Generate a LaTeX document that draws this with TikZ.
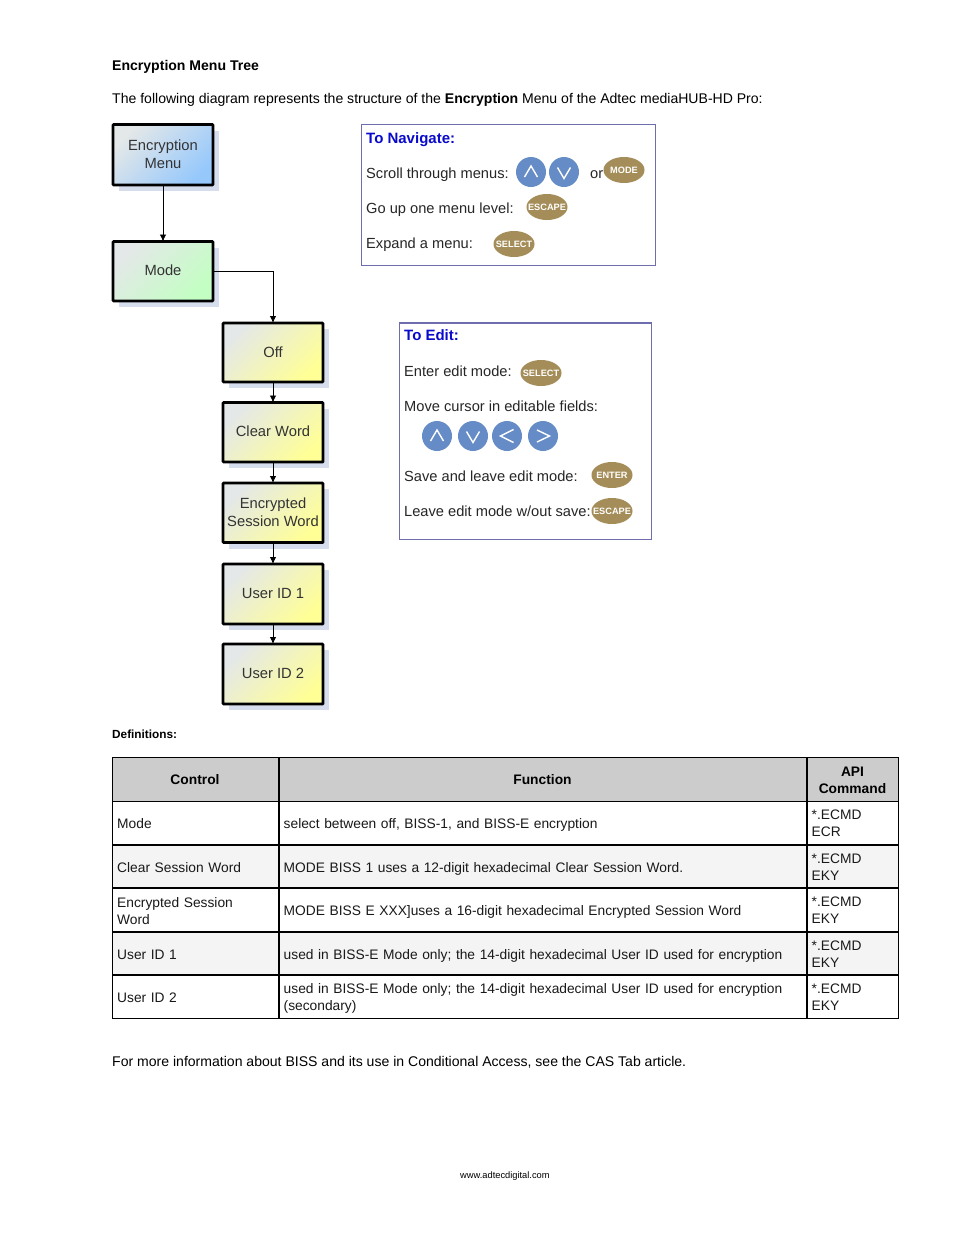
\documentclass[tikz,border=0pt]{standalone}
\usepackage{fontspec}
\setmainfont{Liberation Sans}
\usetikzlibrary{arrows.meta,shapes.geometric}
\definecolor{navframe}{RGB}{110,110,175}
\definecolor{btnblue}{RGB}{101,140,198}
\definecolor{btntan}{RGB}{164,141,88}
\definecolor{navblue}{RGB}{10,10,205}
\definecolor{hdrgray}{RGB}{204,204,204}
\definecolor{rowgray}{RGB}{244,244,244}
\definecolor{shadowc}{RGB}{214,222,238}
\definecolor{cornerc}{RGB}{228,232,232}
\definecolor{fblue}{RGB}{150,200,252}
\definecolor{fgreen}{RGB}{195,255,195}
\definecolor{fyellow}{RGB}{255,255,150}
\tikzset{
 x=1pt,y=-1pt,
 txt/.style={inner sep=0pt,anchor=base west,font=\fontsize{14.05}{16.5}\selectfont},
 bold/.style={txt,font=\fontsize{14.05}{16.5}\selectfont\bfseries},
 arr/.style={draw=black,line width=0.8pt,-{Latex[length=7pt,width=6.5pt]}},
 panel/.style={draw=navframe,line width=1.1pt,fill=white},
 ptxt/.style={txt,font=\fontsize{14.65}{17}\selectfont,text=black!85},
 phead/.style={txt,font=\fontsize{15}{17}\selectfont\bfseries,text=navblue},
 rbtn/.style={circle,fill=btnblue,minimum size=30pt,inner sep=0pt},
 chev/.style={draw=white,line width=1.4pt,line join=miter},
 tbtn/.style={ellipse,fill=btntan,minimum width=41pt,minimum height=26pt,inner sep=0pt},
 tlab/.style={inner sep=0pt,text=white,font=\fontsize{9.2}{10}\selectfont\bfseries},
 outer/.style={draw=black,line width=1pt},
 inner/.style={draw=black,line width=1.8pt},
 ctxt/.style={inner sep=0pt,anchor=west,align=left,font=\fontsize{13.78}{17.3}\selectfont,text=black!90,execute at begin node=\strut,execute at end node=\strut},
 chead/.style={inner sep=0pt,anchor=center,align=center,font=\fontsize{13.8}{17.3}\selectfont\bfseries},
}
% flow box: name, cx, top, bottom, text, colour
\newcommand{\flowbox}[6]{%
 \fill[shadowc] (#2-44.5,#3+6) rectangle (#2+55.5,#4+6);
 \path[left color=cornerc,middle color=#6!93!cornerc,right color=#6,shading angle=45] (#2-50,#3) rectangle (#2+50,#4);
 \draw[black,line width=2.6pt,rounded corners=0.6pt] (#2-50,#3) rectangle (#2+50,#4);
 \node[inner sep=0pt,align=center,text=black!80,font=\fontsize{14.75}{17.5}\selectfont,minimum width=100pt] (#1) at (#2,{(#3+#4)/2-0.7}) {#5};
 \coordinate (#1N) at (#2,#3);
 \coordinate (#1S) at (#2,#4);
 \coordinate (#1E) at (#2+50,{(#3+#4)/2});
}
% table row: top, bottom, fill, three texts, name
\newcommand{\trow}[7]{%
 \fill[#3] (112,#1) rectangle (898,#2);
 \node[ctxt,text width=160pt] (#7a) at (117,{(#1+#2)/2+2.2}) {#4};
 \node[ctxt,text width=520pt] (#7b) at (283.5,{(#1+#2)/2+2.2}) {#5};
 \node[ctxt,text width=80pt] (#7c) at (811.5,{(#1+#2)/2+1.7}) {#6};
}
% tan button: name, x, y, text
\newcommand{\tanbtn}[4]{%
 \node[tbtn] (#1) at (#2,#3) {};
 \node[tlab] (#1t) at (#1.center) {#4};
}
% round button with a chevron: name, x, y, path
\newcommand{\roundbtn}[4]{%
 \node[rbtn] (#1) at (#2,#3) {};
 \draw[chev,shift={(#1.center)}] #4;
}
\newcommand{\chevup}{(-6.5,5) -- (0,-6) -- (6.5,5)}
\newcommand{\chevdn}{(-6.5,-4.5) -- (0,6.5) -- (6.5,-4.5)}
\newcommand{\chevlt}{(6.5,-6.5) -- (-6.5,0) -- (6.5,6.5)}
\newcommand{\chevrt}{(-6,-6) -- (6.5,0) -- (-6,6)}
\begin{document}
\begin{tikzpicture}
\useasboundingbox[fill=white] (0,0) rectangle (954,1235);
\node[bold] (title) at (112,70) {Encryption Menu Tree};
\node[txt] (intro) at (112,103) {The following diagram represents the structure of the \textbf{Encryption} Menu of the Adtec mediaHUB-HD Pro:};

% flow
\flowbox{menu}{163}{124.5}{185}{Encryption\\Menu}{fblue}
\flowbox{mode}{163}{241.5}{301}{Mode}{fgreen}
\flowbox{off}{273}{323}{382}{Off}{fyellow}
\flowbox{clear}{273}{402.5}{462}{Clear Word}{fyellow}
\flowbox{enc}{273}{483}{542.5}{Encrypted\\Session Word}{fyellow}
\flowbox{uid1}{273}{564}{624}{User ID 1}{fyellow}
\flowbox{uid2}{273}{644}{704}{User ID 2}{fyellow}
\draw[arr] (menuS) -- (modeN);
\draw[arr] (modeE) -| (offN);
\draw[arr] (offS) -- (clearN);
\draw[arr] (clearS) -- (encN);
\draw[arr] (encS) -- (uid1N);
\draw[arr] (uid1S) -- (uid2N);

% navigate panel
\draw[panel] (361.5,124.5) rectangle (655.5,265.5);
\node[phead] (navh) at (366,143) {To Navigate:};
\node[ptxt] (nav1) at (366,178) {Scroll through menus:};
\roundbtn{nup}{531}{172}{\chevup}
\roundbtn{ndn}{564}{172}{\chevdn}
\node[ptxt] (nor) at (590,178) {or};
\tanbtn{nmode}{624}{170}{MODE}
\node[ptxt] (nav2) at (366,213) {Go up one menu level:};
\tanbtn{nesc}{547}{207}{ESCAPE}
\node[ptxt] (nav3) at (366,248) {Expand a menu:};
\tanbtn{nsel}{514}{244}{SELECT}

% edit panel
\draw[panel] (399.5,323) rectangle (651.5,539.5);
\node[phead] (edh) at (404,340) {To Edit:};
\node[ptxt] (ed1) at (404,376) {Enter edit mode:};
\tanbtn{esel}{541}{373}{SELECT}
\node[ptxt] (ed2) at (404,411) {Move cursor in editable fields:};
\roundbtn{eup}{437}{436}{\chevup}
\roundbtn{edn}{473}{436}{\chevdn}
\roundbtn{elt}{507}{436}{\chevlt}
\roundbtn{ert}{543}{436}{\chevrt}
\node[ptxt] (ed3) at (404,481) {Save and leave edit mode:};
\tanbtn{eent}{612}{475}{ENTER}
\node[ptxt] (ed4) at (404,516) {Leave edit mode w/out save:};
\tanbtn{eesc}{612}{511}{ESCAPE}

% definitions
\node[txt,font=\fontsize{11.8}{14}\selectfont\bfseries] (defs) at (112,738) {Definitions:};
\fill[hdrgray] (112,757) rectangle (898,801);
\node[chead] (h1) at (195,780) {Control};
\node[chead] (h2) at (542.5,780) {Function};
\node[chead] (h3) at (852.5,780) {API\\Command};
\trow{801}{845}{white}{Mode}{select between off, BISS-1, and BISS-E encryption}{*.ECMD\\ECR}{ra}
\trow{845}{888}{rowgray}{Clear Session Word}{MODE BISS 1 uses a 12-digit hexadecimal Clear Session Word.}{*.ECMD\\EKY}{rb}
\trow{888}{932}{white}{Encrypted Session\\Word}{MODE BISS E XXX]uses a 16-digit hexadecimal Encrypted Session Word}{*.ECMD\\EKY}{rc}
\trow{932}{975}{rowgray}{User ID 1}{used in BISS-E Mode only; the 14-digit hexadecimal User ID used for encryption}{*.ECMD\\EKY}{rd}
\trow{975}{1018}{white}{User ID 2}{used in BISS-E Mode only; the 14-digit hexadecimal User ID used for encryption\\(secondary)}{*.ECMD\\EKY}{re}
\draw[inner] (279,757) -- (279,1018) (807,757) -- (807,1018);
\draw[inner] (112,845) -- (898,845) (112,888) -- (898,888) (112,932) -- (898,932) (112,975) -- (898,975);
\draw[outer] (112,801) -- (898,801);
\draw[outer] (112,757) rectangle (898,1018);

\node[txt] (more) at (112,1066) {For more information about BISS and its use in Conditional Access, see the CAS Tab article.};
\node[txt,font=\fontsize{9.3}{11}\selectfont] (foot) at (460,1178) {www.adtecdigital.com};
\end{tikzpicture}
\end{document}
